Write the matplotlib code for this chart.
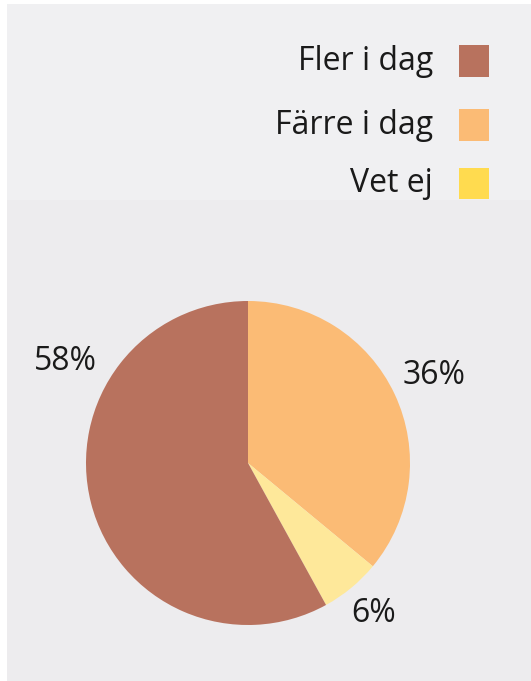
import numpy as np
import matplotlib.pyplot as plt
from matplotlib.patches import Rectangle

labels = ["Fler i dag", "Färre i dag", "Vet ej"]
values = [58, 36, 6]
pie_colors = ["#b8725e", "#fbbb75", "#fee89a"]
legend_colors = ["#b8725e", "#fbbb75", "#ffdb4f"]

plt.rcParams["font.family"] = ["Open Sans", "DejaVu Sans"]

W, H = 531, 681
fig = plt.figure(figsize=(W / 100, H / 100), dpi=100)
fig.patch.set_facecolor("white")

# grey photo-like background with white margin left/top
fig.add_artist(Rectangle((7 / W, 0), 1, 1 - 4 / H, transform=fig.transFigure,
                         facecolor="#edecee", edgecolor="none", zorder=0))
fig.add_artist(Rectangle((7 / W, (H - 200) / H), 1, (200 - 4) / H, transform=fig.transFigure,
                         facecolor="#f0f0f2", edgecolor="none", zorder=0))

# pie axes: centre (248, 463) px, radius 162 px
cx, cy, r = 248, H - 463, 162
lim = 1.4
size = 2 * lim * r
ax = fig.add_axes([(cx - size / 2) / W, (cy - size / 2) / H, size / W, size / H])
ax.set_facecolor("none")

order = [1, 2, 0]  # clockwise from top: Färre, Vet ej, Fler
wedges, _, autotexts = ax.pie([values[i] for i in order],
                              colors=[pie_colors[i] for i in order],
                              startangle=90, counterclock=False,
                              autopct="%d%%", pctdistance=1.27,
                              textprops={"fontsize": 23, "color": "#1a1a1a"},
                              wedgeprops={"linewidth": 0})
# 58% label sits up-left of the pie
ang = np.deg2rad(151)
autotexts[2].set_position((1.29 * np.cos(ang), 1.29 * np.sin(ang)))
autotexts[1].set_position((1.21 * np.cos(np.deg2rad(-50)), 1.21 * np.sin(np.deg2rad(-50))))
ax.set_xlim(-lim, lim)
ax.set_ylim(-lim, lim)
ax.set_aspect("equal")
ax.axis("off")

# legend at top right
sq_y = [61, 125, 184]
for lab, col, y in zip(labels, legend_colors, sq_y):
    fig.add_artist(Rectangle((459 / W, (H - y - 15.5) / H), 30 / W, 31 / H,
                             transform=fig.transFigure, facecolor=col,
                             edgecolor="none", zorder=2))
    fig.text(433 / W, (H - y) / H, lab, ha="right", va="center",
             fontsize=23, color="#1a1a1a")

fig.savefig("out.png", dpi=100)
